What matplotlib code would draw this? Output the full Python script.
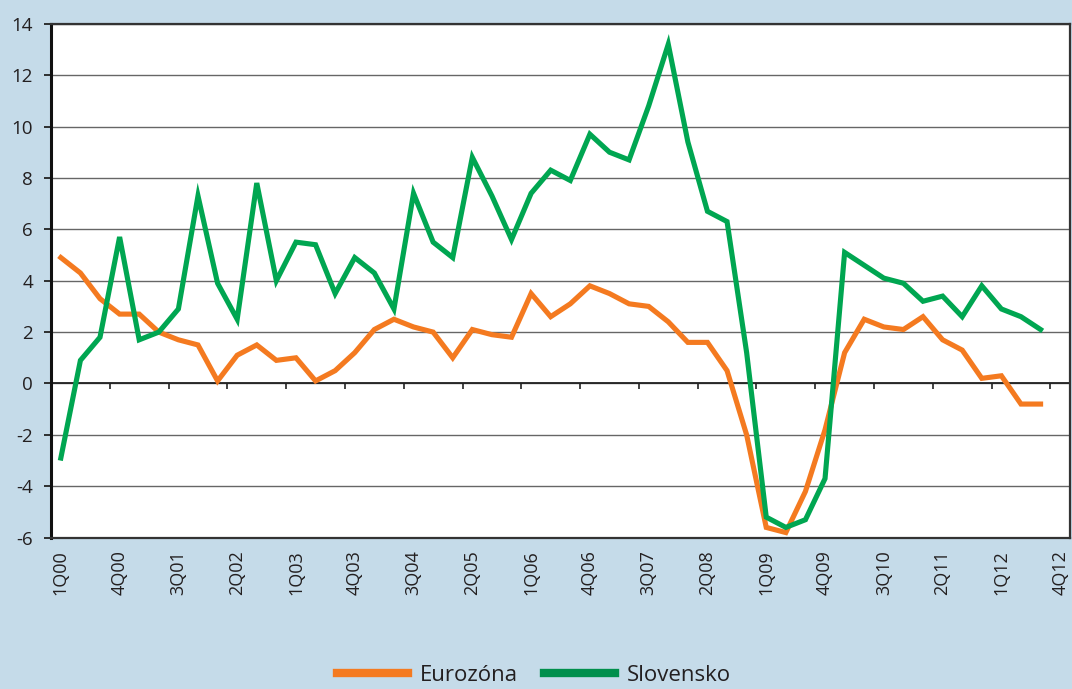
import numpy as np
import matplotlib
matplotlib.use("Agg")
import matplotlib.pyplot as plt

plt.rcParams["font.family"] = ["Open Sans", "DejaVu Sans"]
plt.rcParams["axes.unicode_minus"] = False

QUARTERS = [f"{q}Q{y:02d}" for y in range(0, 13) for q in range(1, 5)]

EUROZONA = [4.9, 4.3, 3.3, 2.7, 2.7, 2.0, 1.7, 1.5, 0.1, 1.1,
            1.5, 0.9, 1.0, 0.1, 0.5, 1.2, 2.1, 2.5, 2.2, 2.0,
            1.0, 2.1, 1.9, 1.8, 3.5, 2.6, 3.1, 3.8, 3.5, 3.1,
            3.0, 2.4, 1.6, 1.6, 0.5, -2.0, -5.6, -5.8, -4.2, -1.8,
            1.2, 2.5, 2.2, 2.1, 2.6, 1.7, 1.3, 0.2, 0.3, -0.8,
            -0.8]

SLOVENSKO = [-2.9, 0.9, 1.8, 5.7, 1.7, 2.0, 2.9, 7.3, 3.9, 2.5,
             7.8, 4.0, 5.5, 5.4, 3.5, 4.9, 4.3, 2.9, 7.4, 5.5,
             4.9, 8.8, 7.3, 5.6, 7.4, 8.3, 7.9, 9.7, 9.0, 8.7,
             10.8, 13.2, 9.4, 6.7, 6.3, 1.2, -5.2, -5.6, -5.3, -3.7,
             5.1, 4.6, 4.1, 3.9, 3.2, 3.4, 2.6, 3.8, 2.9, 2.6,
             2.1]

BG = "#c5dbe9"
ORANGE = "#f47a20"
GREEN = "#00a651"
TXT = "#231f20"

fig = plt.figure(figsize=(10.72, 6.89), dpi=100, facecolor=BG)
ax = fig.add_axes([0.0476, 0.2196, 0.9505, 0.746])
ax.set_facecolor("white")

x = np.arange(len(EUROZONA))
ax.plot(x, EUROZONA, color=ORANGE, lw=3.7, solid_joinstyle="miter", label="Eurozóna", zorder=3)
ax.plot(x, SLOVENSKO, color=GREEN, lw=3.7, solid_joinstyle="miter", label="Slovensko", zorder=3)

ax.set_xlim(-0.5, len(QUARTERS) - 0.5)
ax.set_ylim(-6, 14)
ax.set_yticks(range(-6, 15, 2))
ax.yaxis.grid(True, color="#666666", lw=1.0)
ax.set_axisbelow(True)
ax.axhline(0, color="#222222", lw=1.3, zorder=2)

# category ticks sit on the zero line, between quarters
bounds = np.arange(2.5, len(QUARTERS) - 1, 3)
ax.vlines(bounds, -0.22, 0, color="#222222", lw=1.2, clip_on=False, zorder=2)

ax.set_xticks(range(0, len(QUARTERS), 3))
ax.set_xticklabels(QUARTERS[::3], rotation=90, va="top")
ax.tick_params(axis="x", length=0, pad=9, labelsize=13, labelcolor=TXT)
ax.tick_params(axis="y", direction="out", length=5, width=1.3, pad=8,
               labelsize=13.5, labelcolor=TXT, color="#222222")

for side in ["top", "right", "bottom"]:
    ax.spines[side].set_color("#333333")
    ax.spines[side].set_linewidth(1.6)
ax.spines["left"].set_color("#111111")
ax.spines["left"].set_linewidth(2.2)

leg = fig.legend(loc="center", bbox_to_anchor=(0.498, 0.02), ncol=2, frameon=False,
                 fontsize=16, handlelength=3.2, handletextpad=0.5, columnspacing=1.2)
for line, col in zip(leg.get_lines(), [ORANGE, "#008f4c"]):
    line.set_linewidth(6)
    line.set_color(col)
for t in leg.get_texts():
    t.set_color(TXT)

fig.savefig("out.png", dpi=100, facecolor=BG)
